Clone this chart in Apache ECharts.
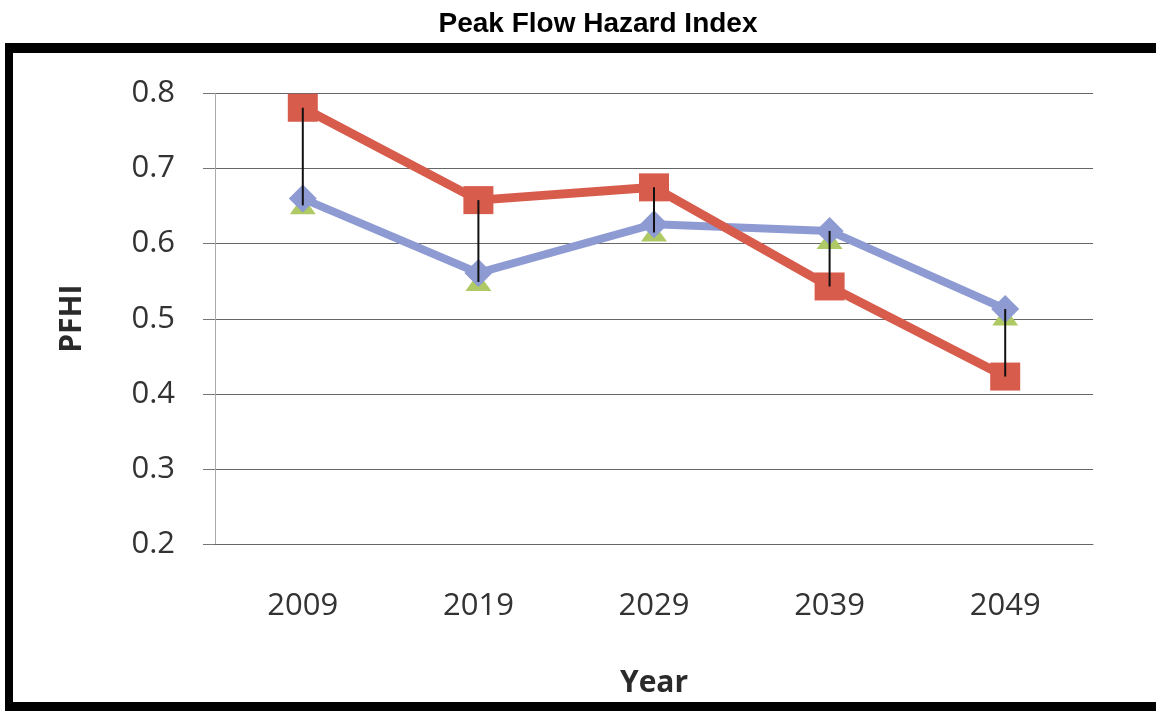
<!DOCTYPE html>
<html>
<head>
<meta charset="utf-8">
<script src="https://cdn.jsdelivr.net/npm/echarts@6/dist/echarts.min.js"></script>
<style>html,body{margin:0;padding:0;background:#fff;}#c{width:1156px;height:711px;}</style>
</head>
<body>
<div id="c"></div>
<script>
const years = ['2009', '2019', '2029', '2039', '2049'];
const redSeries = [0.781, 0.658, 0.675, 0.543, 0.423];
const blueSeries = [0.660, 0.561, 0.626, 0.617, 0.513];
const greenSeries = [0.651, 0.549, 0.615, 0.605, 0.503];
const yTicks = [0.2, 0.3, 0.4, 0.5, 0.6, 0.7, 0.8];

const hiLo = years.map((y, i) => {
  const v = [redSeries[i], blueSeries[i], greenSeries[i]];
  return [i, Math.max(...v), Math.min(...v)];
});

const chart = echarts.init(document.getElementById('c'));
chart.setOption({
  animation: false,
  title: {
    text: 'Peak Flow Hazard Index',
    left: 593, top: 5, textAlign: 'center',
    textStyle: { fontFamily: 'Liberation Sans', fontWeight: 'bold', fontSize: 28, color: '#000' }
  },
  grid: { left: 215, right: 63, top: 93.5, bottom: 167, containLabel: false },
  xAxis: {
    type: 'category', data: years, boundaryGap: true,
    name: 'Year', nameLocation: 'middle', nameGap: 124,
    nameTextStyle: { fontFamily: 'Open Sans', fontWeight: 'bold', fontSize: 30, color: '#2a2a2a' },
    axisLine: { show: true, lineStyle: { color: '#666', width: 1 } },
    axisTick: { show: false },
    axisLabel: { fontFamily: 'Open Sans', fontSize: 31, color: '#333', margin: 47 },
    splitLine: { show: false }
  },
  yAxis: {
    type: 'value', min: 0.2, max: 0.8, interval: 0.1,
    name: 'PFHI', nameLocation: 'middle', nameGap: 128, nameRotate: 90,
    nameTextStyle: { fontFamily: 'Open Sans', fontWeight: 'bold', fontSize: 30, color: '#2a2a2a' },
    axisLine: { show: true, lineStyle: { color: '#aaa', width: 1 } },
    axisTick: { show: true, length: 12, lineStyle: { color: '#777' } },
    axisLabel: { fontFamily: 'Open Sans', fontSize: 31, color: '#333', margin: 40,
      formatter: v => yTicks.includes(Math.round(v * 10) / 10) ? v.toFixed(1) : '' },
    splitLine: { show: true, lineStyle: { color: '#666', width: 1 } }
  },
  series: [
    {
      name: 'Low', type: 'line', data: greenSeries, z: 2,
      lineStyle: { width: 0, opacity: 0 },
      symbol: 'triangle', symbolSize: [26, 18],
      itemStyle: { color: '#AFC964' }
    },
    {
      name: 'Blue', type: 'line', data: blueSeries, z: 3,
      lineStyle: { width: 8, color: '#8E9BD3' },
      symbol: 'diamond', symbolSize: [28, 28],
      itemStyle: { color: '#8E9BD3' }
    },
    {
      name: 'Red', type: 'line', data: redSeries, z: 4,
      lineStyle: { width: 9, color: '#D85C4C' },
      symbol: 'rect', symbolSize: [30, 28],
      itemStyle: { color: '#D85C4C' }
    },
    {
      name: 'HiLo', type: 'custom', z: 10, data: hiLo,
      renderItem: (params, api) => {
        const p1 = api.coord([api.value(0), api.value(1)]);
        const p2 = api.coord([api.value(0), api.value(2)]);
        return { type: 'line', shape: { x1: p1[0], y1: p1[1], x2: p2[0], y2: p2[1] },
          style: { stroke: '#111', lineWidth: 2 } };
      }
    }
  ],
  graphic: [
    { type: 'rect', shape: { x: 5, y: 43, width: 1151, height: 10 }, style: { fill: '#000' }, z: 100 },
    { type: 'rect', shape: { x: 5, y: 43, width: 8, height: 668 }, style: { fill: '#000' }, z: 100 },
    { type: 'rect', shape: { x: 5, y: 702, width: 1151, height: 9 }, style: { fill: '#000' }, z: 100 }
  ]
});
</script>
</body>
</html>
